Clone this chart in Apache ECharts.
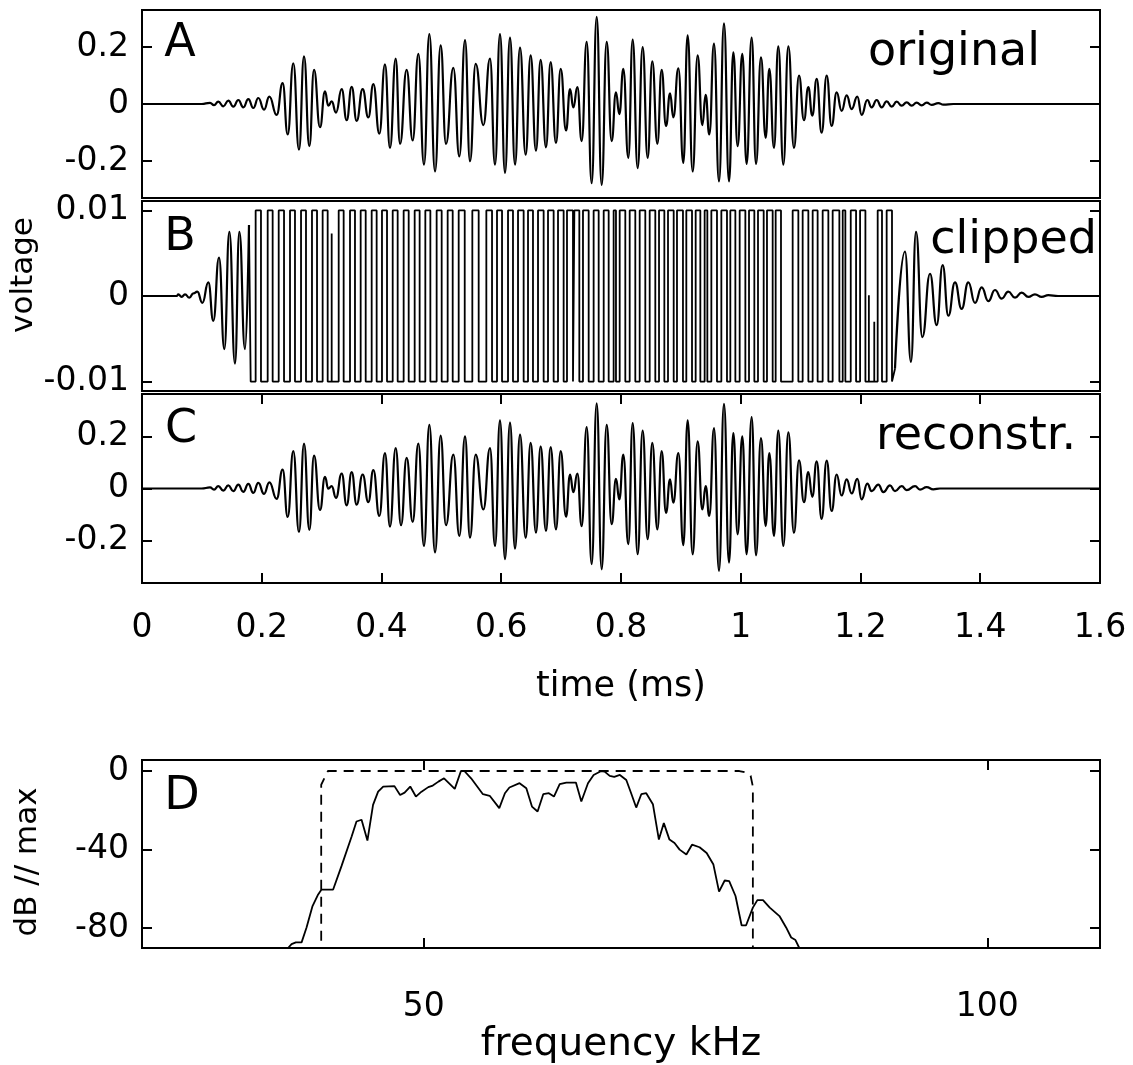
<!DOCTYPE html>
<html><head><meta charset="utf-8">
<script src="https://cdn.jsdelivr.net/npm/echarts@6/dist/echarts.min.js"></script>
<style>html,body{margin:0;padding:0;background:#fff}#c{width:1133px;height:1065px}</style>
</head><body><div id="c"></div>
<script>
// ---------- DATA ----------
// time axis ticks (ms)
const timeTicks = [0, 0.2, 0.4, 0.6, 0.8, 1, 1.2, 1.4, 1.6];
const voltTicksAC = [-0.2, 0, 0.2];
const voltTicksB = [-0.01, 0, 0.01];
const dbTicks = [-80, -40, 0];
const freqTicks = [50, 100];

// Panel A "original": [time ms, voltage] at each extremum
const originalWave = [
 [0,0],[0.0997,0],[0.1136,0.004],[0.1203,-0.004],[0.1275,0.008],[0.1358,-0.008],[0.1442,0.012],[0.1525,-0.009],[0.1609,0.014],[0.1692,-0.012],[0.1776,0.017],[0.1859,-0.014],[0.1943,0.021],[0.2038,-0.020],[0.2127,0.026],[0.2249,-0.038],[0.2349,0.073],[0.2433,-0.107],[0.2527,0.143],[0.2622,-0.160],[0.2706,0.167],[0.2795,-0.148],[0.2873,0.120],[0.2973,-0.081],[0.3056,0.044],[0.3112,-0.006],[0.3168,0.009],[0.3240,-0.030],[0.3335,0.052],[0.3418,-0.057],[0.3502,0.060],[0.3585,-0.059],[0.3685,0.052],[0.3780,-0.047],[0.3864,0.070],[0.3964,-0.104],[0.4058,0.139],[0.4142,-0.154],[0.4237,0.159],[0.4309,-0.140],[0.4420,0.120],[0.4521,-0.128],[0.4615,0.176],[0.4710,-0.213],[0.4799,0.245],[0.4894,-0.237],[0.4988,0.206],[0.5077,-0.140],[0.5200,0.127],[0.5300,-0.184],
 [0.5395,0.224],[0.5478,-0.201],[0.5573,0.141],[0.5701,-0.074],[0.5812,0.159],[0.5896,-0.213],[0.5979,0.245],[0.6063,-0.242],[0.6146,0.233],[0.6230,-0.213],[0.6313,0.198],[0.6408,-0.178],[0.6491,0.171],[0.6580,-0.164],[0.6658,0.155],[0.6747,-0.152],[0.6825,0.147],[0.6914,-0.137],[0.6993,0.123],[0.7082,-0.093],[0.7149,0.052],[0.7204,-0.012],[0.7271,0.059],[0.7343,-0.130],[0.7427,0.218],[0.7510,-0.278],[0.7594,0.306],[0.7677,-0.284],[0.7761,0.218],[0.7844,-0.130],[0.7916,0.041],[0.7972,-0.036],[0.8039,0.123],[0.8122,-0.189],[0.8195,0.226],[0.8278,-0.225],[0.8362,0.200],[0.8445,-0.189],[0.8523,0.150],[0.8607,-0.140],[0.8679,0.120],[0.8752,-0.077],[0.8819,0.037],[0.8874,-0.047],[0.8958,0.125],[0.9041,-0.207],[0.9113,0.241],[0.9197,-0.237],[0.9280,0.171],[0.9358,-0.074],[0.9414,0.032],[0.9475,-0.107],[0.9553,0.212],[0.9637,-0.272],[0.9720,0.283],[0.9804,-0.272],[0.9876,0.181],[0.9948,-0.148],[1.0026,0.176],[1.0098,-0.210],[1.0182,0.233],[1.0255,-0.210],[1.0338,0.164],[1.0416,-0.119],[1.0477,0.123],[1.0555,-0.154],[1.0627,0.202],[1.0711,-0.213],
 [1.0795,0.202],[1.0889,-0.154],[1.0973,0.100],[1.1056,-0.057],[1.1128,0.059],[1.1195,-0.041],[1.1268,0.088],[1.1351,-0.101],[1.1435,0.100],[1.1518,-0.077],[1.1602,0.041],[1.1685,-0.024],[1.1769,0.030],[1.1852,-0.018],[1.1947,0.026],[1.2019,-0.038],[1.2114,0.014],[1.2186,-0.012],[1.2270,0.014],[1.2353,-0.012],[1.2437,0.009],[1.2521,-0.009],[1.2604,0.008],[1.2688,-0.006],[1.2771,0.006],[1.2855,-0.006],[1.2938,0.005],[1.3022,-0.005],[1.3105,0.005],[1.3189,-0.003],[1.3300,0.003],[1.3384,-0.002],[1.3551,0],[1.6,0]
];

// Panel B "clipped": leading oscillation extrema, square-wave edge times, partial spikes, trailing extrema
const clipLevel = 0.01;
const clipLead = [[0,0],[0.0579,0],[0.0607,0.0002],[0.0662,-0.0001],[0.0718,0.0002],[0.0791,-0.0002],[0.0857,0.0003],[0.0924,0.0005],[0.1008,-0.0008],[0.1108,0.0016],[0.1191,-0.0029],[0.1286,0.0045],[0.1375,-0.0062],[0.1459,0.0075],[0.1553,-0.0079],[0.1626,0.0075],[0.1720,-0.0062],[0.1787,0.0083]];
const clipEdges = [
 0.1815,0.1898,0.1987,0.2099,0.2182,0.2283,0.2372,0.2472,0.2555,0.2656,0.2739,0.2839,0.2923,0.3017,0.3101,0.3285,0.3368,0.3474,0.3557,0.3652,0.3736,0.3836,0.3919,0.4008,0.4092,0.4187,0.4270,0.4370,0.4454,0.4554,0.4637,0.4732,0.4816,0.4921,0.5005,0.5105,0.5189,0.5289,0.5390,
 0.5517,0.5623,0.5751,0.5846,0.5929,0.6013,0.6113,0.6196,0.6280,0.6374,0.6447,0.6530,0.6614,0.6708,0.6781,0.6875,0.6948,0.7042,0.7098,0.7198,0.7221,0.7304,0.7365,0.7460,0.7543,0.7627,0.7711,0.7794,0.7877,0.7916,0.7978,0.8072,0.8145,0.8239,0.8312,0.8406,0.8479,0.8573,0.8635,0.8724,0.8785,0.8880,0.8935,0.9035,0.9091,0.9186,0.9247,0.9325,0.9397,0.9442,0.9509,0.9603,0.9676,0.9770,0.9826,0.9910,0.9982,1.0077,1.0138,1.0227,1.0288,1.0383,1.0438,1.0533,1.0583,1.0672,
 1.0867,1.0962,1.1034,1.1129,1.1201,1.1284,1.1368,1.1463,1.1535,1.1647,1.1703,1.1747,1.1837,1.1926,1.1993,1.2082,1.2287,1.2359,1.2437,1.2526
];
const clipSpikes = [[0.3168,0.0073],[1.2140,0.0001],[1.2230,-0.0030]];
const clipTail = [[1.2576,-0.0085],[1.2743,0.0052],[1.2843,-0.0077],[1.2927,0.0075],[1.3033,-0.0048],[1.3161,0.0026],[1.3272,-0.0034],[1.3372,0.0036],[1.3467,-0.0023],[1.3578,0.0016],[1.3689,-0.0015],[1.3801,0.0016],[1.3912,-0.0008],[1.4024,0.0010],[1.4135,-0.0006],[1.4246,0.0007],[1.4358,-0.0003],[1.4469,0.0005],[1.4581,-0.0002],[1.4692,0.0004],[1.4803,-0.0001],[1.4914,0.0002],[1.5026,-0.0001],[1.5137,0.0001],[1.53,0],[1.6,0]];

// Panel C "reconstr.": [time ms, voltage] at each extremum
const reconWave = [
 [0,0],[0.0997,0],[0.1136,0.004],[0.1203,-0.004],[0.1275,0.009],[0.1358,-0.008],[0.1442,0.012],[0.1525,-0.010],[0.1609,0.015],[0.1692,-0.013],[0.1776,0.018],[0.1859,-0.017],[0.1943,0.022],[0.2038,-0.021],[0.2127,0.024],[0.2249,-0.040],[0.2349,0.073],[0.2433,-0.110],[0.2527,0.144],[0.2622,-0.168],[0.2706,0.173],[0.2795,-0.160],[0.2873,0.127],[0.2973,-0.083],[0.3056,0.045],[0.3112,-0.001],[0.3168,0.009],[0.3240,-0.036],[0.3335,0.058],[0.3418,-0.065],[0.3502,0.063],[0.3585,-0.062],[0.3685,0.054],[0.3780,-0.053],[0.3864,0.071],[0.3964,-0.106],[0.4058,0.137],[0.4142,-0.147],[0.4237,0.156],[0.4326,-0.142],[0.4420,0.118],[0.4521,-0.129],[0.4615,0.173],[0.4710,-0.222],[0.4799,0.246],[0.4894,-0.247],[0.4988,0.204],[0.5077,-0.142],[0.5200,0.131],[0.5300,-0.183],
 [0.5395,0.201],[0.5478,-0.190],[0.5573,0.131],[0.5701,-0.081],[0.5812,0.156],[0.5896,-0.222],[0.5979,0.263],[0.6063,-0.273],[0.6146,0.255],[0.6230,-0.232],[0.6313,0.208],[0.6408,-0.190],[0.6491,0.176],[0.6580,-0.171],[0.6658,0.163],[0.6747,-0.164],[0.6825,0.160],[0.6914,-0.158],[0.6993,0.144],[0.7082,-0.109],[0.7149,0.054],[0.7204,-0.014],[0.7271,0.058],[0.7343,-0.145],[0.7427,0.237],[0.7510,-0.292],[0.7594,0.329],[0.7677,-0.312],[0.7761,0.246],[0.7844,-0.138],[0.7916,0.037],[0.7972,-0.042],[0.8039,0.131],[0.8122,-0.215],[0.8195,0.253],[0.8278,-0.254],[0.8362,0.224],[0.8445,-0.196],[0.8523,0.176],[0.8607,-0.158],[0.8679,0.144],[0.8752,-0.094],[0.8819,0.035],[0.8874,-0.055],[0.8958,0.137],[0.9041,-0.219],[0.9113,0.263],[0.9197,-0.254],[0.9280,0.182],[0.9358,-0.081],[0.9414,0.009],[0.9475,-0.106],[0.9553,0.233],[0.9637,-0.318],[0.9720,0.327],[0.9804,-0.286],[0.9876,0.214],[0.9948,-0.177],[1.0026,0.201],[1.0098,-0.254],[1.0182,0.276],[1.0255,-0.258],[1.0338,0.195],[1.0416,-0.145],[1.0477,0.137],[1.0555,-0.183],[1.0627,0.224],[1.0711,-0.222],
 [1.0795,0.217],[1.0889,-0.171],[1.0973,0.109],[1.1056,-0.053],[1.1128,0.063],[1.1195,-0.032],[1.1268,0.105],[1.1351,-0.117],[1.1435,0.108],[1.1518,-0.087],[1.1602,0.054],[1.1685,-0.027],[1.1769,0.035],[1.1852,-0.019],[1.1947,0.037],[1.2019,-0.042],[1.2114,0.019],[1.2186,-0.010],[1.2298,0.015],[1.2382,-0.014],[1.2493,0.012],[1.2576,-0.010],[1.2688,0.009],[1.2771,-0.006],[1.2911,0.009],[1.2994,-0.004],[1.3105,0.005],[1.3216,-0.003],[1.3327,0],[1.6,0]
];

// Panel D: spectrum [frequency kHz, dB re max] and filter (dashed)
const spectrum = [[38.0,-89.8],[38.27,-88.1],[38.65,-87.2],[39.16,-87.2],[39.6,-79.6],[40.13,-68.7],[40.63,-62.8],[40.93,-60.3],[41.96,-60.3],[42.7,-48.4],[43.6,-33.3],[44.03,-25.7],[44.48,-24.8],[45.0,-35.4],[45.5,-17.2],[45.95,-10.5],[46.4,-7.9],[47.4,-7.7],[47.9,-12.2],[48.3,-11.0],[48.8,-7.9],[49.3,-13.0],[49.8,-10.5],[50.4,-8.2],[50.8,-7.4],[51.3,-5.4],[51.8,-3.7],[52.75,-9.1],[53.3,0],[53.6,0],[54.2,-3.7],[55.25,-11.8],[55.85,-12.6],[56.7,-18.9],[57.2,-11.3],[57.6,-8.4],[58.5,-6.2],[59.1,-8.8],[59.6,-18.1],[60.1,-20.6],[60.6,-11.8],[61.1,-11.3],[61.55,-13.0],[62.06,-6.7],[62.65,-5.9],[63.5,-5.9],[63.98,-15.5],[64.57,-6.2],[65.07,-2.0],[65.75,0],[66.05,-0.3],[66.5,-2.5],[66.9,-3.0],[67.4,-2.0],[67.97,-4.6],[68.4,-11.3],[68.85,-18.6],[69.3,-11.8],[69.74,-11.3],[70.33,-16.9],[70.86,-34.9],[71.3,-26.5],[71.8,-34.9],[72.25,-36.6],[72.7,-40.0],[73.3,-42.5],[73.8,-37.5],[74.47,-38.8],[75.1,-41.7],[75.7,-47.6],[76.2,-61.4],[76.7,-55.7],[77.1,-56.0],[77.66,-63.6],[78.2,-78.5],[78.6,-78.5],[79.2,-69.5],[79.6,-65.7],[80.1,-65.7],[80.7,-69.5],[81.56,-73.8],[82.15,-79.6],[82.6,-84.7],[82.98,-86.0],[83.3,-89.8]];
const filterShape = [[40.9,-95],[40.9,-7],[41.5,0],[78.0,0],[78.6,-0.8],[79.0,-2.4],[79.2,-8],[79.2,-95]];

// ---------- BUILD ----------
function buildSquare(start, edges, level, spikes, end) {
  const pts = [start];
  let cur = start[1];
  let si = 0;
  const flushSpikes = (t) => {
    while (si < spikes.length && spikes[si][0] < t) {
      const s = spikes[si++];
      pts.push([s[0], cur], [s[0], s[1]], [s[0], cur]);
    }
  };
  for (const t of edges) {
    flushSpikes(t);
    pts.push([t, cur]);
    cur = cur > 0 ? -level : level;
    pts.push([t, cur]);
  }
  flushSpikes(Infinity);
  pts.push(end);
  return pts;
}
const clipSquare = buildSquare(clipLead[clipLead.length - 1], clipEdges, clipLevel, clipSpikes, clipTail[0]);

const FONT = 'DejaVu Sans';
const L = 142, W = 958;
const gridBase = { show: true, borderColor: '#000', borderWidth: 2, backgroundColor: 'transparent', left: L, width: W };
const grids = [
  Object.assign({ top: 10, height: 188 }, gridBase),
  Object.assign({ top: 201, height: 190 }, gridBase),
  Object.assign({ top: 394, height: 189 }, gridBase),
  Object.assign({ top: 760, height: 189 }, gridBase)
];
const tickStyle = { show: true, inside: true, length: 10, lineStyle: { color: '#000', width: 2 } };
const labelStyle = { color: '#000', fontSize: 33, fontFamily: FONT };
const noLine = { show: false, onZero: false };

function hiddenX(g) {
  return { type: 'value', gridIndex: g, min: 0, max: 1.6, show: false, axisLine: noLine };
}
function yLeft(g, min, max, ticks) {
  return { type: 'value', gridIndex: g, min, max, position: 'left',
    axisLine: noLine, splitLine: { show: false },
    axisTick: Object.assign({ customValues: ticks }, tickStyle),
    axisLabel: Object.assign({ customValues: ticks, margin: 13 }, labelStyle) };
}
function yRight(g, min, max, ticks) {
  return { type: 'value', gridIndex: g, min, max, position: 'right',
    axisLine: noLine, splitLine: { show: false },
    axisTick: Object.assign({ customValues: ticks }, tickStyle),
    axisLabel: { show: false } };
}

const xAxes = [
  hiddenX(0),
  hiddenX(1),
  { type: 'value', gridIndex: 2, min: 0, max: 1.6, interval: 0.2, position: 'bottom',
    axisLine: noLine, splitLine: { show: false },
    axisTick: Object.assign({ customValues: timeTicks }, tickStyle),
    axisLabel: Object.assign({ customValues: timeTicks, margin: 29 }, labelStyle),
    name: 'time (ms)', nameLocation: 'middle', nameGap: 86,
    nameTextStyle: { color: '#000', fontSize: 35, fontFamily: FONT } },
  { type: 'value', gridIndex: 2, min: 0, max: 1.6, interval: 0.2, position: 'top',
    axisLine: noLine, splitLine: { show: false },
    axisTick: Object.assign({ customValues: timeTicks }, tickStyle),
    axisLabel: { show: false } },
  { type: 'value', gridIndex: 3, min: 25, max: 110, position: 'bottom',
    axisLine: noLine, splitLine: { show: false },
    axisTick: Object.assign({ customValues: freqTicks }, tickStyle),
    axisLabel: Object.assign({ customValues: freqTicks, margin: 43 }, labelStyle),
    name: 'frequency kHz', nameLocation: 'middle', nameGap: 71,
    nameTextStyle: { color: '#000', fontSize: 39, fontFamily: FONT } },
  { type: 'value', gridIndex: 3, min: 25, max: 110, position: 'top',
    axisLine: noLine, splitLine: { show: false },
    axisTick: Object.assign({ customValues: freqTicks }, tickStyle),
    axisLabel: { show: false } }
];
const yAxes = [
  yLeft(0, -0.33, 0.33, voltTicksAC), yRight(0, -0.33, 0.33, voltTicksAC),
  yLeft(1, -0.0111, 0.0111, voltTicksB), yRight(1, -0.0111, 0.0111, voltTicksB),
  yLeft(2, -0.365, 0.365, voltTicksAC), yRight(2, -0.365, 0.365, voltTicksAC),
  yLeft(3, -90.1, 5.6, dbTicks), yRight(3, -90.1, 5.6, dbTicks)
];

const lineBase = { type: 'line', showSymbol: false, symbol: 'none', animation: false, clip: true,
  lineStyle: { color: '#000', width: 2.2 } };
function ser(x, y, data, smooth, extra) {
  return Object.assign({}, lineBase, { xAxisIndex: x, yAxisIndex: y, data,
    smooth: smooth ? 0.5 : false, smoothMonotone: smooth ? 'x' : undefined }, extra || {});
}
const series = [
  ser(0, 0, originalWave, true),
  ser(1, 2, clipLead, true),
  ser(1, 2, clipSquare, false, { lineStyle: { color: '#000', width: 1.8 } }),
  ser(1, 2, clipTail, true),
  ser(2, 4, reconWave, true),
  ser(4, 6, spectrum, false, { lineStyle: { color: '#000', width: 1.8 } }),
  ser(4, 6, filterShape, false, { lineStyle: { color: '#000', width: 1.8, type: [10, 7] } })
];

function txt(text, x, y, size, align, rot) {
  return { type: 'text', x, y, rotation: rot || 0, silent: true,
    style: { text, fill: '#000', fontSize: size, fontFamily: FONT, align: align || 'center', verticalAlign: 'middle' } };
}
const graphics = [
  txt('A', 180, 44, 46), txt('B', 180, 238, 46), txt('C', 181, 430, 46), txt('D', 182, 797, 46),
  txt('original', 1040, 53, 46, 'right'),
  txt('clipped', 1097, 241, 46, 'right'),
  txt('reconstr.', 1076, 437, 46, 'right'),
  txt('voltage', 24, 275, 31, 'center', Math.PI / 2),
  txt('dB // max', 28, 862, 31, 'center', Math.PI / 2)
];

const chart = echarts.init(document.getElementById('c'), null, { renderer: 'canvas', width: 1133, height: 1065 });
chart.setOption({
  animation: false,
  backgroundColor: '#fff',
  grid: grids,
  xAxis: xAxes,
  yAxis: yAxes,
  series,
  graphic: graphics
});
</script>
</body></html>
